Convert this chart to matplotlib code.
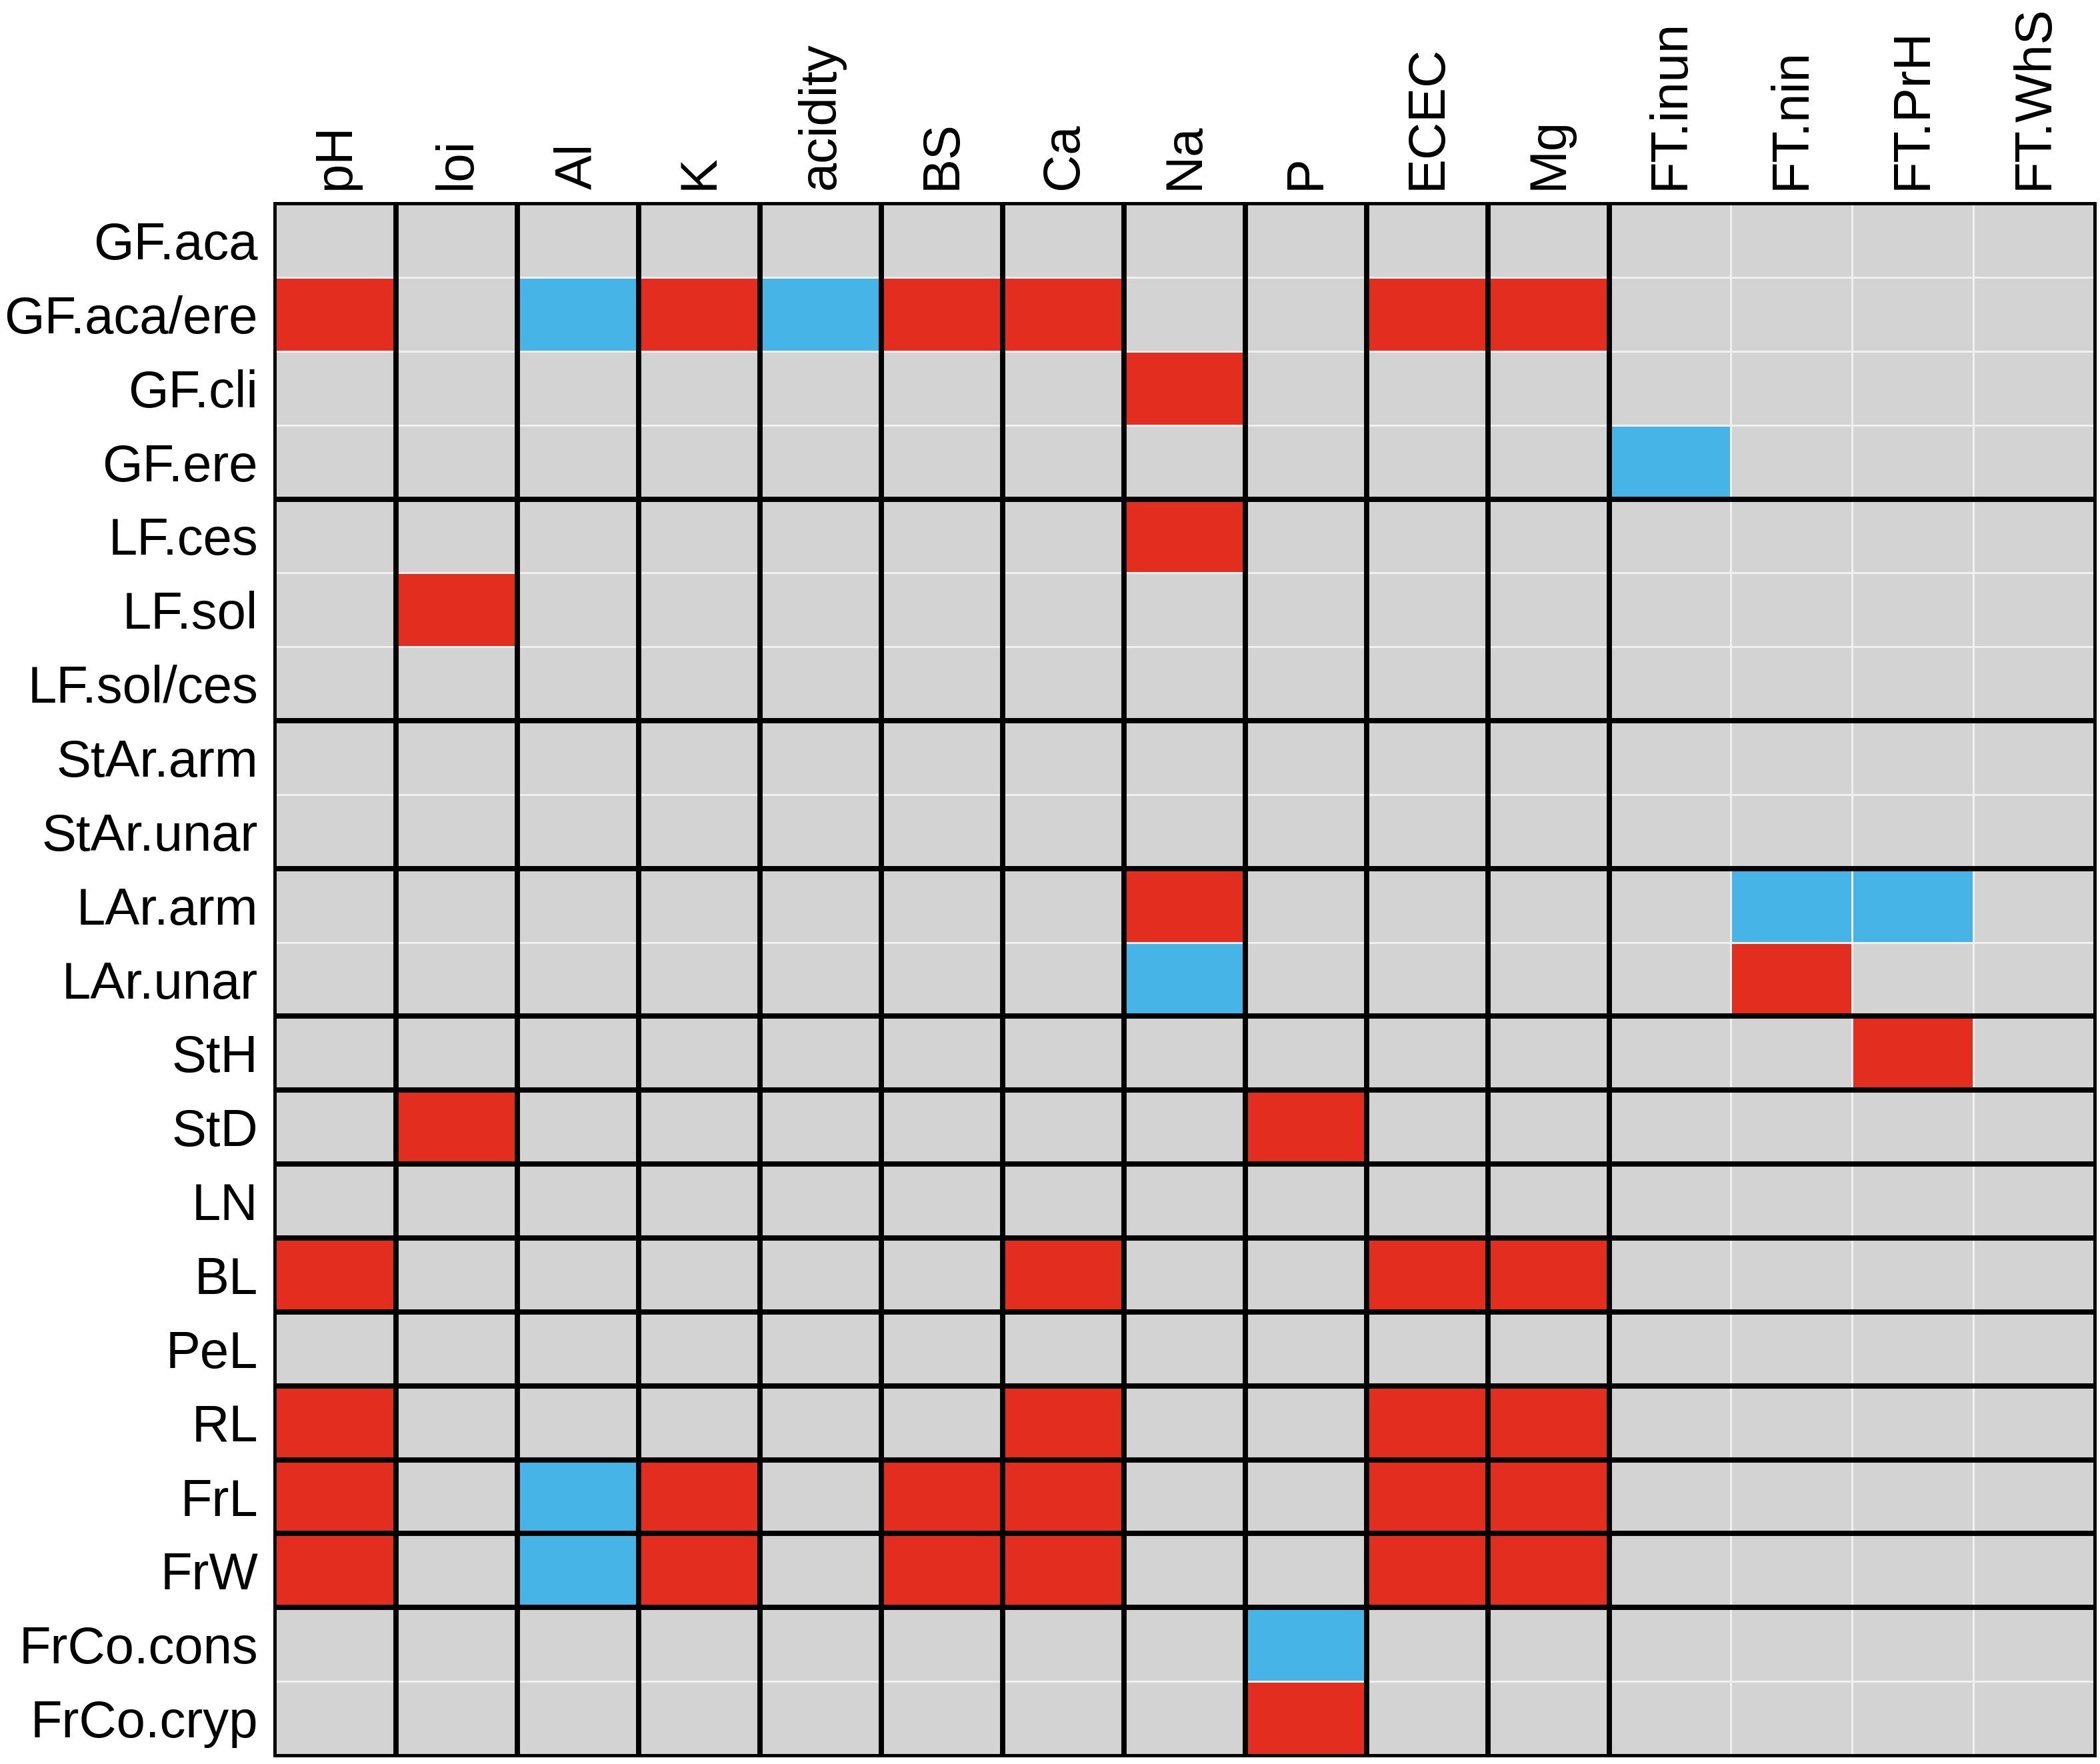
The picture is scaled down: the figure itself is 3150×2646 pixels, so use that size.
import matplotlib.pyplot as plt
import numpy as np
from matplotlib.colors import ListedColormap

plt.rcParams['font.family'] = ['Liberation Sans', 'DejaVu Sans']

rows = ['GF.aca', 'GF.aca/ere', 'GF.cli', 'GF.ere', 'LF.ces', 'LF.sol', 'LF.sol/ces',
        'StAr.arm', 'StAr.unar', 'LAr.arm', 'LAr.unar', 'StH', 'StD', 'LN', 'BL',
        'PeL', 'RL', 'FrL', 'FrW', 'FrCo.cons', 'FrCo.cryp']
cols = ['pH', 'loi', 'Al', 'K', 'acidity', 'BS', 'Ca', 'Na', 'P', 'ECEC', 'Mg',
        'FT.inun', 'FT.nin', 'FT.PrH', 'FT.WhS']

# 1 = positive (red), -1 = negative (blue), 0 = no effect
effect = np.array([
    # pH loi Al  K  ac BS Ca Na  P EC Mg in ni PH WS
    [0, 0, 0, 0, 0, 0, 0, 0, 0, 0, 0, 0, 0, 0, 0],     # GF.aca
    [1, 0, -1, 1, -1, 1, 1, 0, 0, 1, 1, 0, 0, 0, 0],   # GF.aca/ere
    [0, 0, 0, 0, 0, 0, 0, 1, 0, 0, 0, 0, 0, 0, 0],     # GF.cli
    [0, 0, 0, 0, 0, 0, 0, 0, 0, 0, 0, -1, 0, 0, 0],    # GF.ere
    [0, 0, 0, 0, 0, 0, 0, 1, 0, 0, 0, 0, 0, 0, 0],     # LF.ces
    [0, 1, 0, 0, 0, 0, 0, 0, 0, 0, 0, 0, 0, 0, 0],     # LF.sol
    [0, 0, 0, 0, 0, 0, 0, 0, 0, 0, 0, 0, 0, 0, 0],     # LF.sol/ces
    [0, 0, 0, 0, 0, 0, 0, 0, 0, 0, 0, 0, 0, 0, 0],     # StAr.arm
    [0, 0, 0, 0, 0, 0, 0, 0, 0, 0, 0, 0, 0, 0, 0],     # StAr.unar
    [0, 0, 0, 0, 0, 0, 0, 1, 0, 0, 0, 0, -1, -1, 0],   # LAr.arm
    [0, 0, 0, 0, 0, 0, 0, -1, 0, 0, 0, 0, 1, 0, 0],    # LAr.unar
    [0, 0, 0, 0, 0, 0, 0, 0, 0, 0, 0, 0, 0, 1, 0],     # StH
    [0, 1, 0, 0, 0, 0, 0, 0, 1, 0, 0, 0, 0, 0, 0],     # StD
    [0, 0, 0, 0, 0, 0, 0, 0, 0, 0, 0, 0, 0, 0, 0],     # LN
    [1, 0, 0, 0, 0, 0, 1, 0, 0, 1, 1, 0, 0, 0, 0],     # BL
    [0, 0, 0, 0, 0, 0, 0, 0, 0, 0, 0, 0, 0, 0, 0],     # PeL
    [1, 0, 0, 0, 0, 0, 1, 0, 0, 1, 1, 0, 0, 0, 0],     # RL
    [1, 0, -1, 1, 0, 1, 1, 0, 0, 1, 1, 0, 0, 0, 0],    # FrL
    [1, 0, -1, 1, 0, 1, 1, 0, 0, 1, 1, 0, 0, 0, 0],    # FrW
    [0, 0, 0, 0, 0, 0, 0, 0, -1, 0, 0, 0, 0, 0, 0],    # FrCo.cons
    [0, 0, 0, 0, 0, 0, 0, 0, 1, 0, 0, 0, 0, 0, 0],     # FrCo.cryp
])

# how the rows and columns are grouped (black separators)
row_groups = [4, 3, 2, 2, 1, 1, 1, 1, 1, 1, 1, 1, 2]
col_groups = [1] * 11 + [4]

fig = plt.figure(figsize=(10.5, 8.82), dpi=300)
ax = fig.add_axes([0.1308, 0.0049, 0.8667, 0.8798])

cmap = ListedColormap(['#46B4E6', '#D3D3D3', '#E22D1F'])
ax.pcolormesh(effect, cmap=cmap, vmin=-1.5, vmax=1.5,
              edgecolors='#F0F0F0', linewidth=0.7)
ax.set_xlim(0, len(cols))
ax.set_ylim(len(rows), 0)

for y in np.cumsum(row_groups)[:-1]:
    ax.axhline(y, color='black', lw=1.9)
for x in np.cumsum(col_groups)[:-1]:
    ax.axvline(x, color='black', lw=1.9)

ax.set_xticks(np.arange(len(cols)) + 0.5)
ax.set_xticklabels(cols, rotation=90, fontsize=18.7)
ax.set_yticks(np.arange(len(rows)) + 0.5)
ax.set_yticklabels(rows, fontsize=18.7)
ax.xaxis.tick_top()
ax.tick_params(axis='both', length=0, colors='black')
ax.tick_params(axis='x', pad=5)
ax.tick_params(axis='y', pad=6)
for s in ax.spines.values():
    s.set_linewidth(1.2)
    s.set_color('black')

plt.savefig('out.png', dpi=300)
